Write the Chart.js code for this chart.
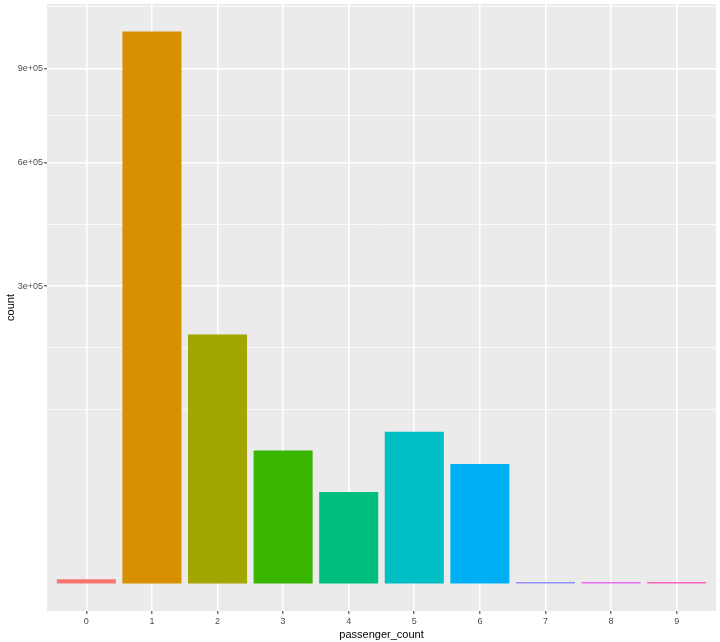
<!DOCTYPE html>
<html>
<head>
<meta charset="utf-8">
<script src="https://cdn.jsdelivr.net/npm/chart.js@4/dist/chart.umd.min.js"></script>
<style>
  body { margin: 0; background: #ffffff; }
  canvas { display: block; }
</style>
</head>
<body>
<canvas id="countChart" width="720" height="642"></canvas>
<script>
// passenger_count distribution
var categories = ['0', '1', '2', '3', '4', '5', '6', '7', '8', '9'];
var counts = [60, 1033540, 210318, 59896, 28404, 78088, 48333, 3, 1, 1];
var barColors = ['#F8766D', '#D89000', '#A3A500', '#39B600', '#00BF7D',
                 '#00BFC4', '#00B0F6', '#9590FF', '#E76BF3', '#FF62BC'];
var yTickValues = [300000, 600000, 900000];
var yTickLabels = ['3e+05', '6e+05', '9e+05'];

// signed square root, like scale_y_sqrt
function tr(v) { return Math.sign(v) * Math.sqrt(Math.abs(v)); }
function inv(d) { return Math.sign(d) * d * d; }

class SqrtScale extends Chart.LinearScale {
    getPixelForValue(value) {
        var lo = tr(this.min), hi = tr(this.max);
        return this.getPixelForDecimal((tr(value) - lo) / (hi - lo));
    }
    getValueForPixel(pixel) {
        var lo = tr(this.min), hi = tr(this.max);
        return inv(lo + this.getDecimalForPixel(pixel) * (hi - lo));
    }
}
SqrtScale.id = 'sqrt';
SqrtScale.defaults = Chart.LinearScale.defaults;
Chart.register(SqrtScale);

// limits with 5% expansion in sqrt space
var topS = Math.sqrt(Math.max.apply(null, counts));
var expand = topS * 0.05;
var yMin = inv(-expand), yMax = inv(topS + expand);

// minor breaks the ggplot way (midpoints in transformed space)
var b = yTickValues.map(tr);
var bd = b[1] - b[0];
if (-expand < b[0]) b.unshift(b[0] - bd);
if (topS + expand > b[b.length - 1]) b.push(b[b.length - 1] + bd);
var minorS = [];
for (var i = 0; i < b.length - 1; i++) {
    minorS.push(b[i], (b[i] + b[i + 1]) / 2);
}
var gridValues = minorS
    .filter(function (s) { return s > -expand && s < topS + expand; })
    .map(inv)
    .filter(function (v) { return !yTickValues.some(function (m) { return Math.abs(m - v) < 1; }); })
    .concat(yTickValues)
    .sort(function (a, c) { return a - c; });

function isMajor(v) {
    return yTickValues.some(function (m) { return Math.abs(m - v) < 1; });
}

Chart.defaults.font.family = "'Liberation Sans', Arial, sans-serif";

var panelBg = {
    id: 'panelBg',
    beforeDraw: function (chart) {
        var a = chart.chartArea, ctx = chart.ctx;
        ctx.save();
        ctx.fillStyle = '#EBEBEB';
        ctx.fillRect(a.left, a.top, a.right - a.left, a.bottom - a.top);
        ctx.restore();
    }
};

var ctx = document.getElementById('countChart').getContext('2d');
var countChart = new Chart(ctx, {
    type: 'bar',
    data: {
        datasets: [{
            data: counts.map(function (c, i) { return { x: i, y: c }; }),
            backgroundColor: barColors,
            borderWidth: 0,
            barPercentage: 0.9,
            categoryPercentage: 1.0,
            minBarLength: 1.5
        }]
    },
    options: {
        responsive: false,
        animation: false,
        layout: { padding: { top: 4, right: 4, left: 0, bottom: 0 } },
        plugins: {
            legend: { display: false },
            tooltip: { enabled: false }
        },
        scales: {
            x: {
                type: 'linear',
                min: -0.6,
                max: 9.6,
                offset: false,
                afterBuildTicks: function (scale) {
                    scale.ticks = categories.map(function (c, i) { return { value: i }; });
                },
                afterFit: function (scale) {
                    scale.height = 31;
                    scale.paddingLeft = 0;
                    scale.paddingRight = 0;
                },
                ticks: {
                    autoSkip: false,
                    maxRotation: 0,
                    padding: 2,
                    color: '#4D4D4D',
                    font: { size: 9 },
                    callback: function (value) { return categories[value]; }
                },
                grid: {
                    offset: false,
                    color: '#FFFFFF',
                    lineWidth: 1.6,
                    drawTicks: true,
                    tickLength: 3,
                    tickColor: '#333333',
                    tickWidth: 1
                },
                border: { display: false },
                title: {
                    display: true,
                    text: 'passenger_count',
                    color: '#000000',
                    font: { size: 11 },
                    padding: { top: 0, bottom: 0 }
                }
            },
            y: {
                type: 'sqrt',
                min: yMin,
                max: yMax,
                afterBuildTicks: function (scale) {
                    scale.ticks = gridValues.map(function (v) { return { value: v }; });
                },
                afterFit: function (scale) {
                    scale.width = 47;
                    scale.paddingTop = 0;
                    scale.paddingBottom = 0;
                },
                ticks: {
                    autoSkip: false,
                    padding: 1,
                    color: '#4D4D4D',
                    font: { size: 9 },
                    callback: function (value) {
                        var k = yTickValues.findIndex(function (m) { return Math.abs(m - value) < 1; });
                        return k >= 0 ? yTickLabels[k] : '';
                    }
                },
                grid: {
                    color: '#FFFFFF',
                    lineWidth: function (c) { return isMajor(c.tick.value) ? 1.6 : 0.8; },
                    drawTicks: true,
                    tickLength: 3,
                    tickColor: function (c) { return isMajor(c.tick.value) ? '#333333' : 'rgba(0,0,0,0)'; },
                    tickWidth: 1
                },
                border: { display: false },
                title: {
                    display: true,
                    text: 'count',
                    color: '#000000',
                    font: { size: 11 },
                    padding: { top: 4, bottom: 0 }
                }
            }
        }
    },
    plugins: [panelBg]
});
</script>
</body>
</html>
